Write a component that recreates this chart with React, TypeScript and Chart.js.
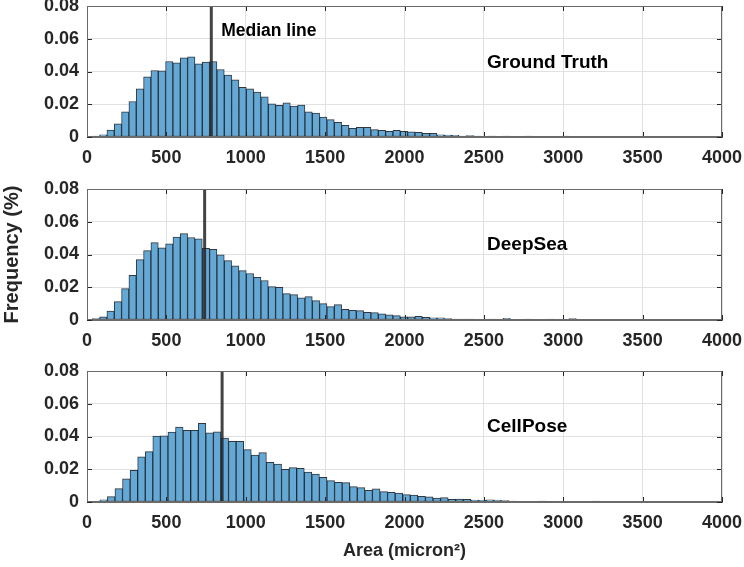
import React, { useEffect, useRef } from 'react';
import { Chart, registerables } from 'chart.js';

Chart.register(...registerables);

// ---------- data ----------
const X_TICKS = [0, 500, 1000, 1500, 2000, 2500, 3000, 3500, 4000];
const Y_TICKS = [0, 0.02, 0.04, 0.06, 0.08];

const GT_BIN_START = 33;
const GT_BIN_WIDTH = 46.2;
const GT_FREQ = [
  0.0006, 0.0014, 0.0043, 0.0081, 0.0154, 0.0217, 0.0294, 0.0368, 0.0406, 0.0404,
  0.0461, 0.0453, 0.0483, 0.0489, 0.0447, 0.0457, 0.0461, 0.0412, 0.0378, 0.0349,
  0.0303, 0.0294, 0.0274, 0.0246, 0.0203, 0.0193, 0.0209, 0.0189, 0.0195, 0.0154,
  0.0146, 0.0122, 0.0106, 0.0089, 0.0071, 0.0053, 0.0059, 0.0059, 0.0045, 0.0041,
  0.0035, 0.0041, 0.0035, 0.0032, 0.0028, 0.0022, 0.0022, 0.0014, 0.0012, 0.0010,
  0.0006, 0.0008, 0.0006, 0.0004, 0.0006, 0.0004, 0.0006, 0.0002, 0.0004, 0.0006,
  0.0004, 0.0002, 0.0004, 0.0002, 0.0006, 0.0004, 0.0004, 0.0004, 0.0002, 0.0004,
  0.0002, 0.0002, 0.0000, 0.0002, 0.0002, 0.0000, 0.0002,
];
const GT_MEDIAN = 783;

const DS_BIN_START = 33;
const DS_BIN_WIDTH = 46.2;
const DS_FREQ = [
  0.0008, 0.0020, 0.0055, 0.0112, 0.0192, 0.0273, 0.0369, 0.0424, 0.0473, 0.0441,
  0.0465, 0.0506, 0.0527, 0.0504, 0.0496, 0.0437, 0.0431, 0.0398, 0.0363, 0.0331,
  0.0302, 0.0284, 0.0261, 0.0241, 0.0204, 0.0200, 0.0161, 0.0155, 0.0135, 0.0143,
  0.0118, 0.0100, 0.0082, 0.0094, 0.0065, 0.0059, 0.0057, 0.0047, 0.0045, 0.0037,
  0.0031, 0.0027, 0.0020, 0.0020, 0.0022, 0.0016, 0.0014, 0.0014, 0.0008, 0.0006,
  0.0006, 0.0006, 0.0002, 0.0004, 0.0006, 0.0004, 0.0010, 0.0004, 0.0002, 0.0006,
  0.0004, 0.0002, 0.0006, 0.0002, 0.0002, 0.0008, 0.0002, 0.0002, 0.0002, 0.0004,
  0.0002, 0.0002, 0.0002, 0.0002,
];
const DS_MEDIAN = 741;

const CP_BIN_START = 33;
const CP_BIN_WIDTH = 47.7;
const CP_FREQ = [
  0.0004, 0.0014, 0.0033, 0.0082, 0.0141, 0.0194, 0.0276, 0.0308, 0.0402, 0.0404,
  0.0427, 0.0457, 0.0437, 0.0437, 0.0480, 0.0422, 0.0429, 0.0390, 0.0371, 0.0371,
  0.0320, 0.0286, 0.0302, 0.0243, 0.0231, 0.0200, 0.0210, 0.0206, 0.0182, 0.0171,
  0.0150, 0.0131, 0.0120, 0.0118, 0.0094, 0.0088, 0.0071, 0.0080, 0.0063, 0.0059,
  0.0055, 0.0045, 0.0043, 0.0035, 0.0031, 0.0024, 0.0027, 0.0016, 0.0018, 0.0016,
  0.0012, 0.0010, 0.0014, 0.0012, 0.0008, 0.0006, 0.0004, 0.0004, 0.0002, 0.0006,
  0.0002, 0.0002, 0.0004, 0.0002, 0.0004, 0.0002, 0.0006, 0.0002, 0.0002, 0.0004,
  0.0002, 0.0002, 0.0000, 0.0002, 0.0002, 0.0000, 0.0002, 0.0002, 0.0000, 0.0002,
  0.0002, 0.0000, 0.0002,
];
const CP_MEDIAN = 851;

const PANEL_NAMES = ['Ground Truth', 'DeepSea', 'CellPose'];
const PANEL_NAME_X = 2520;
const PANEL_NAME_Y = [0.0452, 0.0458, 0.0458];
const MEDIAN_LABEL = 'Median line';
const MEDIAN_LABEL_X = 845;
const MEDIAN_LABEL_Y = 0.0647;

const Y_TITLE = 'Frequency (%)';
const X_TITLE = 'Area (micron²)';

// ---------- styling ----------
const FONT = "'Liberation Sans', Arial, Helvetica, sans-serif";
const TEXT = '#262626';
const GRID = '#e1e1e1';
const BOX = '#6a6a6a';
const BAR_FILL = 'rgb(100,168,214)';
const BAR_EDGE = 'rgba(10,20,30,0.85)';
const MEDIAN_COLOR = 'rgba(35,35,35,0.85)';

const W = 744;
const PLOT_H = 131;
const TOP_PAD = 20;

type Label = { text: string; x: number; y: number; size: number };

const framePlugin = {
  id: 'frame',
  afterDatasetsDraw(chart: any, _args: any, opts: any) {
    const { ctx, chartArea: a, scales } = chart;
    const x = scales.x;
    const y = scales.y;
    ctx.save();
    // inner tick marks
    ctx.strokeStyle = TEXT;
    ctx.lineWidth = 1;
    ctx.beginPath();
    for (const v of X_TICKS) {
      const px = Math.round(x.getPixelForValue(v)) + 0.5;
      ctx.moveTo(px, a.bottom);
      ctx.lineTo(px, a.bottom - 5);
      ctx.moveTo(px, a.top);
      ctx.lineTo(px, a.top + 5);
    }
    for (const v of Y_TICKS) {
      const py = Math.round(y.getPixelForValue(v)) + 0.5;
      ctx.moveTo(a.left, py);
      ctx.lineTo(a.left + 5, py);
      ctx.moveTo(a.right, py);
      ctx.lineTo(a.right - 5, py);
    }
    ctx.stroke();
    // box
    ctx.strokeStyle = BOX;
    ctx.strokeRect(Math.round(a.left) + 0.5, Math.round(a.top) + 0.5, Math.round(a.width) - 1, Math.round(a.height) - 1);
    // labels
    ctx.fillStyle = '#000';
    ctx.textAlign = 'left';
    ctx.textBaseline = 'middle';
    for (const l of (opts.labels || []) as Label[]) {
      ctx.font = `bold ${l.size}px ${FONT}`;
      ctx.fillText(l.text, x.getPixelForValue(l.x), y.getPixelForValue(l.y));
    }
    ctx.restore();
  },
};

type PanelProps = {
  top: number;
  bottomH: number;
  binStart: number;
  binWidth: number;
  freq: number[];
  median: number;
  labels: Label[];
  yTitle?: string;
  xTitle?: string;
};

function Panel(p: PanelProps) {
  const ref = useRef<HTMLCanvasElement | null>(null);
  const height = TOP_PAD + PLOT_H + p.bottomH;

  useEffect(() => {
    if (!ref.current) return;
    const bars = p.freq.map((f, i) => ({ x: p.binStart + (i + 0.5) * p.binWidth, y: f }));
    const chart = new Chart(ref.current, {
      type: 'bar',
      data: {
        datasets: [
          {
            type: 'line',
            data: [
              { x: p.median, y: 0 },
              { x: p.median, y: 0.08 },
            ],
            borderColor: MEDIAN_COLOR,
            borderWidth: 3,
            pointRadius: 0,
            fill: false,
          } as any,
          {
            type: 'bar',
            data: bars,
            backgroundColor: BAR_FILL,
            borderColor: BAR_EDGE,
            borderWidth: 1,
            borderSkipped: false,
            barPercentage: 1,
            categoryPercentage: 1,
          } as any,
        ],
      },
      options: {
        responsive: false,
        animation: false,
        devicePixelRatio: 1,
        layout: { padding: { top: TOP_PAD, right: 22, left: 0, bottom: 0 } },
        plugins: {
          legend: { display: false },
          tooltip: { enabled: false },
          frame: { labels: p.labels },
        } as any,
        scales: {
          x: {
            type: 'linear',
            min: 0,
            max: 4000,
            offset: false,
            afterBuildTicks: (s: any) => {
              s.ticks = X_TICKS.map((v) => ({ value: v }));
            },
            afterFit: (s: any) => {
              s.height = p.bottomH;
              s.paddingLeft = 0;
              s.paddingRight = 0;
            },
            ticks: {
              autoSkip: false,
              maxRotation: 0,
              padding: 10,
              color: TEXT,
              font: { family: FONT, size: 18, weight: 'bold' },
              callback: (v: any) => String(v),
            },
            grid: { color: GRID, drawTicks: false, offset: false },
            border: { display: true, color: BOX },
            title: {
              display: !!p.xTitle,
              text: p.xTitle || '',
              color: TEXT,
              font: { family: FONT, size: 18, weight: 'bold' },
              padding: { top: 4, bottom: 4 },
            },
          },
          y: {
            type: 'linear',
            min: 0,
            max: 0.08,
            afterBuildTicks: (s: any) => {
              s.ticks = Y_TICKS.map((v) => ({ value: v }));
            },
            afterFit: (s: any) => {
              s.width = 87;
              s.paddingTop = 0;
              s.paddingBottom = 0;
            },
            ticks: {
              padding: 8,
              color: TEXT,
              font: { family: FONT, size: 18, weight: 'bold' },
              callback: (v: any) => (Number(v) === 0 ? '0' : Number(v).toFixed(2)),
            },
            grid: { color: GRID, drawTicks: false },
            border: { display: true, color: BOX },
            title: {
              display: !!p.yTitle,
              text: p.yTitle || '',
              color: TEXT,
              font: { family: FONT, size: 20, weight: 'bold' },
              padding: { top: 0, bottom: 0 },
            },
          },
        },
      } as any,
      plugins: [framePlugin as any],
    });
    return () => chart.destroy();
  }, []);

  return (
    <canvas
      ref={ref}
      width={W}
      height={height}
      style={{ position: 'absolute', left: 0, top: p.top - TOP_PAD, width: W, height }}
    />
  );
}

export default function App() {
  return (
    <div
      style={{
        position: 'fixed',
        left: 0,
        top: 0,
        width: W,
        height: 567,
        overflow: 'hidden',
        background: '#ffffff',
      }}
    >
      <Panel
        top={6}
        bottomH={40}
        binStart={GT_BIN_START}
        binWidth={GT_BIN_WIDTH}
        freq={GT_FREQ}
        median={GT_MEDIAN}
        labels={[
          { text: MEDIAN_LABEL, x: MEDIAN_LABEL_X, y: MEDIAN_LABEL_Y, size: 17.5 },
          { text: PANEL_NAMES[0], x: PANEL_NAME_X, y: PANEL_NAME_Y[0], size: 19 },
        ]}
      />
      <Panel
        top={189}
        bottomH={40}
        binStart={DS_BIN_START}
        binWidth={DS_BIN_WIDTH}
        freq={DS_FREQ}
        median={DS_MEDIAN}
        labels={[{ text: PANEL_NAMES[1], x: PANEL_NAME_X, y: PANEL_NAME_Y[1], size: 19 }]}
        yTitle={Y_TITLE}
      />
      <Panel
        top={371}
        bottomH={64}
        binStart={CP_BIN_START}
        binWidth={CP_BIN_WIDTH}
        freq={CP_FREQ}
        median={CP_MEDIAN}
        labels={[{ text: PANEL_NAMES[2], x: PANEL_NAME_X, y: PANEL_NAME_Y[2], size: 19 }]}
        xTitle={X_TITLE}
      />
    </div>
  );
}
